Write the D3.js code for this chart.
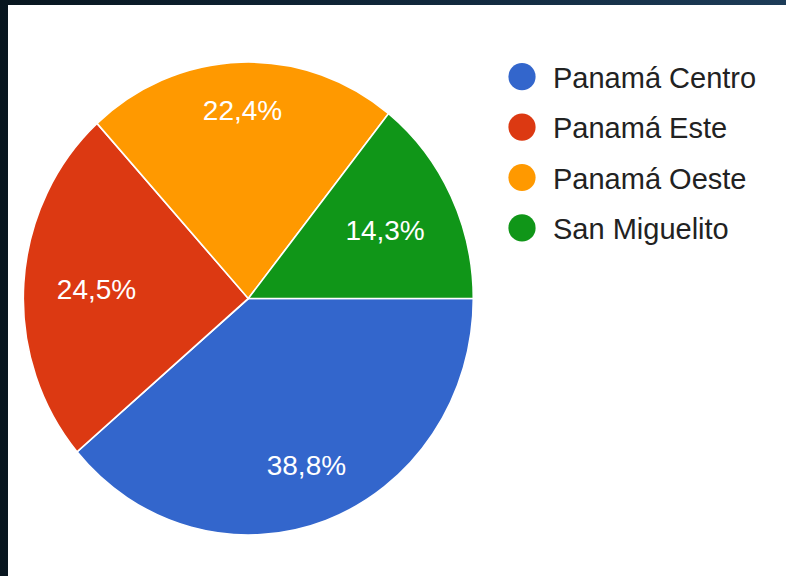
<!DOCTYPE html>
<html>
<head>
<meta charset="utf-8">
<script src="https://cdn.jsdelivr.net/npm/d3@7"></script>
<style>
  html, body { margin: 0; padding: 0; }
  body { width: 786px; height: 576px; overflow: hidden; background: #0b1926; }
  svg { display: block; }
</style>
</head>
<body>
<div id="chart"></div>
<script>
(function(){
    var width = 786,
        height = 576;

    // responses per zone (percentages are derived from these)
    var zones = ["Panamá Centro", "Panamá Este", "Panamá Oeste", "San Miguelito"];
    var counts = [19, 12, 11, 7];
    var colors = ["#3366cc", "#dc3912", "#ff9900", "#109618"];

    var svg = d3.select("#chart")
        .append("svg")
        .attr("width", width)
        .attr("height", height);

    var defs = svg.append("defs");
    var grad = defs.append("linearGradient").attr("id", "bg")
        .attr("x1", "0").attr("x2", "1").attr("y1", "0").attr("y2", "0");
    grad.append("stop").attr("offset", "0").attr("stop-color", "#08161f");
    grad.append("stop").attr("offset", "0.6").attr("stop-color", "#122a3f");
    grad.append("stop").attr("offset", "1").attr("stop-color", "#1d3c58");

    svg.append("rect").attr("width", width).attr("height", height).attr("fill", "url(#bg)");
    svg.append("rect").attr("x", 8).attr("y", 5)
        .attr("width", width - 8).attr("height", height - 5)
        .attr("fill", "#fff");

    var cx = 248.3, cy = 298.5,
        r = 225,
        ky = 236.5 / 225;   // the picture is slightly stretched vertically

    var total = d3.sum(counts);
    var data = zones.map(function(z, i){ return { zone: z, value: counts[i], color: colors[i] }; });

    var pie = d3.pie()
        .value(function(d){ return d.value })
        .sort(null)
        .startAngle(Math.PI / 2)
        .endAngle(Math.PI / 2 + 2 * Math.PI);

    var arc = d3.arc().innerRadius(0).outerRadius(r);
    var arcs = pie(data);

    var g = svg.append("g")
        .attr("transform", "translate(" + cx + "," + cy + ") scale(1," + ky + ")");

    g.selectAll(".slice")
        .data(arcs)
        .enter().append("path")
        .attr("class", "slice")
        .attr("d", arc)
        .attr("fill", function(d){ return d.data.color })
        .attr("stroke", "#fff")
        .attr("stroke-width", 1.6)
        .attr("stroke-linejoin", "round");

    var fmt = function(v){
        return (v / total * 100).toFixed(1).replace(".", ",") + "%";
    };

    var labels = svg.append("g").attr("transform", "translate(" + cx + "," + cy + ")");
    labels.selectAll(".lbl")
        .data(arcs)
        .enter().append("text")
        .attr("class", "lbl")
        .attr("text-anchor", "middle")
        .attr("font-family", "Liberation Sans, Arial, sans-serif")
        .attr("font-size", 28)
        .attr("fill", "#fff")
        .text(function(d){ return fmt(d.data.value) })
        .each(function(d){
            var a = (d.startAngle + d.endAngle) / 2;
            var hw = this.getComputedTextLength() / 2, hh = 11;
            var dist = 0.855 * r - (hw * Math.abs(Math.sin(a)) + hh * Math.abs(Math.cos(a)));
            var x = dist * Math.sin(a),
                y = -dist * Math.cos(a) * ky;
            d3.select(this).attr("x", x).attr("y", y + 10.5);
        });

    var legend = svg.append("g").attr("transform", "translate(522,76.7)");
    var rows = legend.selectAll(".row")
        .data(data)
        .enter().append("g")
        .attr("class", "row")
        .attr("transform", function(d, i){ return "translate(0," + (i * 50.4) + ")" });

    rows.append("circle")
        .attr("r", 13.6)
        .attr("fill", function(d){ return d.color });

    rows.append("text")
        .attr("x", 31)
        .attr("y", 11)
        .attr("font-family", "Liberation Sans, Arial, sans-serif")
        .attr("font-size", 29)
        .attr("fill", "#222")
        .text(function(d){ return d.zone });
})();
</script>
</body>
</html>
